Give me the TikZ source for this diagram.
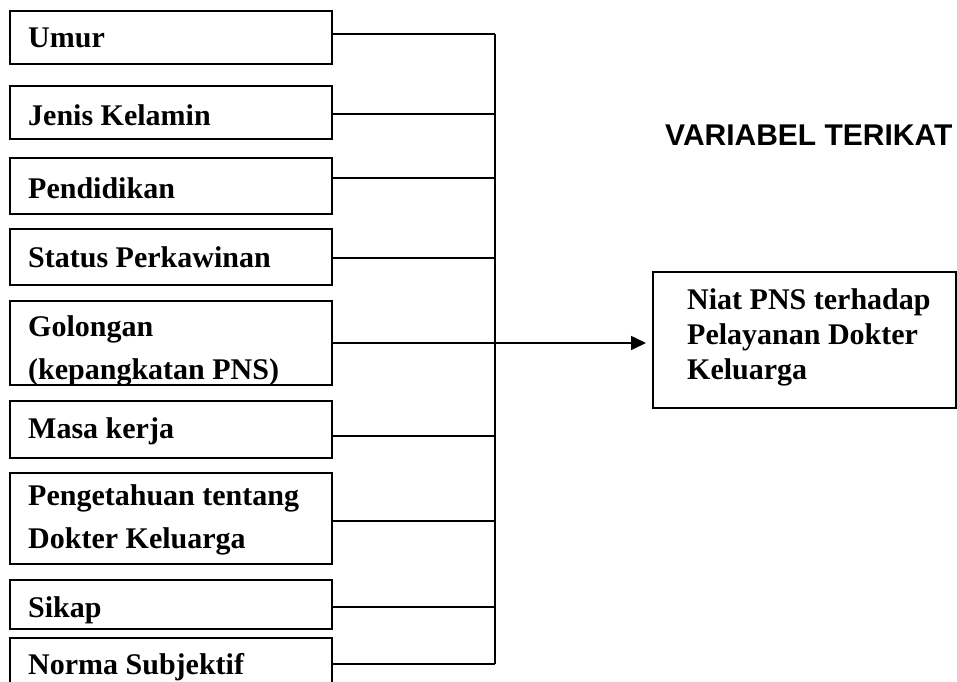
\documentclass[tikz,border=0pt]{standalone}
\usepackage{fontspec}
\setmainfont{Liberation Serif}
\newfontfamily\headfont{Liberation Sans}
\usetikzlibrary{arrows.meta}
\begin{document}
\begin{tikzpicture}[x=1pt,y=-1pt,
  vbox/.style={draw,line width=1.6pt,rectangle,minimum width=322pt,inner sep=0pt,anchor=north west},
  lbl/.style={anchor=base west,inner sep=0pt,font=\fontsize{30}{45}\selectfont\bfseries},
  wire/.style={line width=1.6pt},
]
\useasboundingbox (0,0) rectangle (957,681);
% labels
\node[lbl] (t1) at (28,47) {Umur};
\node[lbl] (t2) at (28,125) {Jenis Kelamin};
\node[lbl] (t3) at (28,198) {Pendidikan};
\node[lbl] (t4) at (28,267) {Status Perkawinan};
\node[lbl] (t5a) at (28,336) {Golongan};
\begin{scope}
\clip (9,300) rectangle (331,384);
\node[lbl] (t5b) at (28,379) {(kepangkatan PNS)};
\end{scope}
\node[lbl] (t6) at (28,438) {Masa kerja};
\node[lbl] (t7a) at (28,505) {Pengetahuan tentang};
\node[lbl] (t7b) at (28,548) {Dokter Keluarga};
\node[lbl] (t8) at (28,617) {Sikap};
\node[lbl] (t9) at (28,674) {Norma Subjektif};
% left boxes
\node[vbox,minimum height=53pt] (b1) at (9,10) {};
\node[vbox,minimum height=53pt] (b2) at (9,85) {};
\node[vbox,minimum height=56pt] (b3) at (9,157) {};
\node[vbox,minimum height=56pt] (b4) at (9,228) {};
\node[vbox,minimum height=84pt] (b5) at (9,300) {};
\node[vbox,minimum height=57pt] (b6) at (9,400) {};
\node[vbox,minimum height=91pt] (b7) at (9,472) {};
\node[vbox,minimum height=49pt] (b8) at (9,579) {};
\node[vbox,minimum height=60pt] (b9) at (9,637) {};
% bus
\coordinate (top) at (495,34);
\coordinate (bot) at (495,664);
\draw[wire] (top) -- (bot);
\draw[wire] (b1.east |- 0,34) -- (top);
\draw[wire] (b2.east |- 0,114) -- (495,114);
\draw[wire] (b3.east |- 0,178) -- (495,178);
\draw[wire] (b4.east |- 0,258) -- (495,258);
\draw[wire] (b6.east |- 0,436) -- (495,436);
\draw[wire] (b7.east |- 0,521) -- (495,521);
\draw[wire] (b8.east |- 0,607) -- (495,607);
\draw[wire] (b9.east |- 0,664) -- (bot);
% target
\node[draw,line width=1.6pt,rectangle,minimum width=303pt,minimum height=136pt,inner sep=0pt,anchor=north west] (tg) at (652,271) {};
\node[lbl,font=\fontsize{30}{35}\selectfont\bfseries] (n1) at (687,309) {Niat PNS terhadap};
\node[lbl,font=\fontsize{30}{35}\selectfont\bfseries] (n2) at (687,344) {Pelayanan Dokter};
\node[lbl,font=\fontsize{30}{35}\selectfont\bfseries] (n3) at (687,379) {Keluarga};
\draw[wire,shorten >=6pt,-{Triangle[length=15pt,width=14pt]}] (b5.east |- 0,343) -- (tg.west |- 0,343);
% heading
\node[anchor=base west,inner sep=0pt,font=\headfont\fontsize{30}{34}\selectfont\bfseries] (hd) at (665,145) {VARIABEL TERIKAT};
\end{tikzpicture}
\end{document}
